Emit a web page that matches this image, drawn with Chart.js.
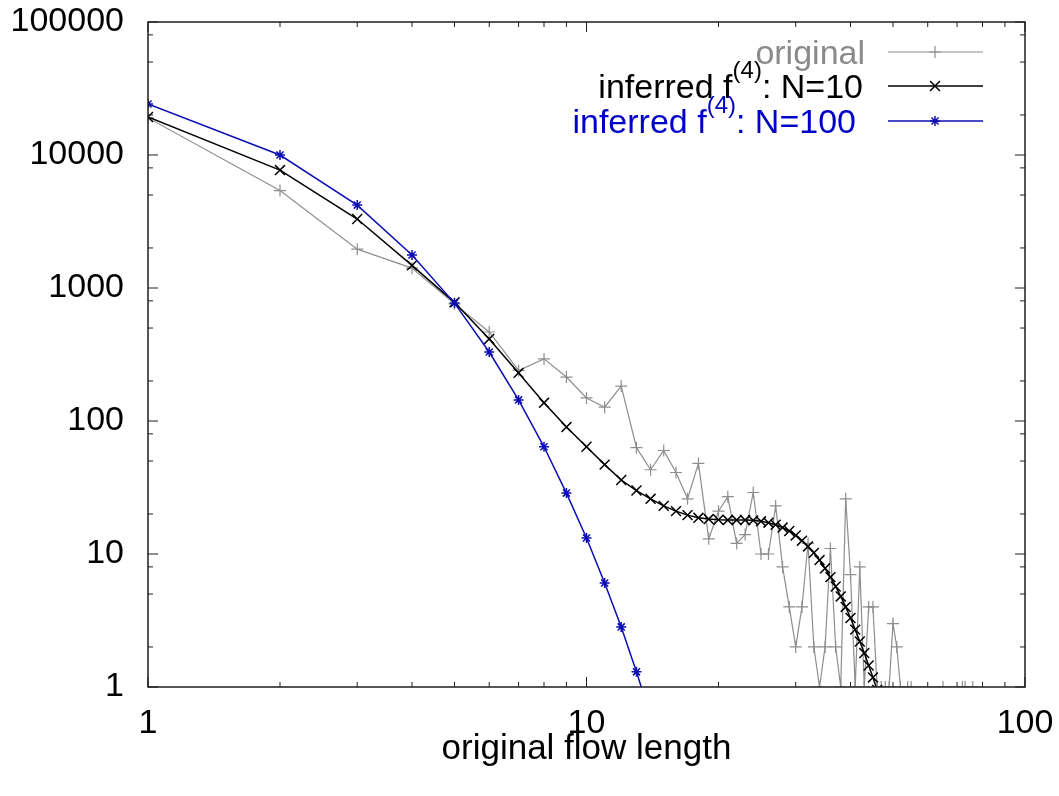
<!DOCTYPE html>
<html>
<head>
<meta charset="utf-8">
<title>original flow length</title>
<script src="https://cdn.jsdelivr.net/npm/chart.js@4.4.0/dist/chart.umd.min.js"></script>
<style>
  html, body { margin: 0; padding: 0; background: #fff; }
  canvas { display: block; }
</style>
</head>
<body>
<canvas id="flowChart" width="1059" height="796"></canvas>
<script>
// flow length distribution: original vs. inferred f(4)
const origX = [1, 2, 3, 4, 5, 6, 7, 8, 9, 10, 11, 12, 13, 14, 15, 16, 17, 18, 19, 20,
  21, 22, 23, 24, 25, 26, 27, 28, 29, 30, 31, 32, 33, 34, 35, 36, 37, 38, 39, 40,
  41, 42, 43, 44, 45, 46, 47, 48, 49, 50, 51, 52, 54, 55, 65, 72, 73, 76];
const origY = [19000, 5400, 1960, 1410, 760, 467, 240, 293, 214, 149, 127, 183, 63, 43, 60, 41, 26, 48, 13, 21,
  27, 12, 14, 29, 10, 10, 23, 8, 4, 2, 4, 12, 2, 1, 2, 11, 2, 1, 26, 7,
  1, 8, 1, 4, 4, 1, 1, 1, 1, 3, 2, 1, 1, 1, 1, 1, 1, 1];

const n10X = [1, 2, 3, 4, 5, 6, 7, 8, 9, 10, 11, 12, 13, 14, 15, 16, 17, 18, 19, 20, 21, 22, 23,
  24, 25, 26, 27, 28, 29, 30, 31, 32, 33, 34, 35, 36, 37, 38, 39, 40, 41, 42, 43, 44, 45, 46];
const n10Y = [19300, 7700, 3300, 1480, 780, 414, 230, 137, 90, 64, 47, 36, 30, 26, 23, 21, 19.6, 18.7, 18.3, 18.1, 18, 18, 18,
  17.9, 17.6, 17.2, 16.6, 15.8, 14.9, 13.8, 12.6, 11.4, 10.2, 9.0, 7.8, 6.7, 5.7, 4.8, 4.0, 3.3, 2.7, 2.2, 1.8, 1.45, 1.18, 0.95];

const n100X = [1, 2, 3, 4, 5, 6, 7, 8, 9, 10, 11, 12, 13, 14];
const n100Y = [24200, 10000, 4200, 1770, 770, 330, 144, 64, 28.7, 13.2, 6.05, 2.83, 1.30, 0.6];

const xMajor = [1, 10, 100];
const yMajor = [1, 10, 100, 1000, 10000, 100000];
const xMinorSteps = [2, 3, 4, 5, 6, 7, 8, 9];
const yMinorSteps = [2, 5, 8];

const GRAY = '#8e8e8e';
const BLUE = '#0c0cb4';
const FONT = '"Liberation Sans", Arial, Helvetica, sans-serif';

function pairs(xs, ys) {
  return xs.map((x, i) => ({ x: x, y: ys[i] }));
}

const legendRows = [
  { text: 'original', sup: '', tail: '', color: GRAY, textColor: '#8a8a8a', style: 'cross', radius: 6, right: 865, y: 52 },
  { text: 'inferred f', sup: '(4)', tail: ': N=10', color: '#000', textColor: '#000', style: 'crossRot', radius: 7, right: 863, y: 86 },
  { text: 'inferred f', sup: '(4)', tail: ': N=100', color: BLUE, textColor: '#0000c8', style: 'star', radius: 5, right: 856, y: 121 }
];

// border box with inward major/minor ticks on all four sides
const frameTicks = {
  id: 'frameTicks',
  afterDatasetsDraw(chart) {
    const { ctx, chartArea: a, scales: { x, y } } = chart;
    ctx.save();
    ctx.strokeStyle = '#1e1e1e';
    ctx.lineWidth = 1;
    ctx.beginPath();
    xMajor.forEach(function (d, i) {
      const px = x.getPixelForValue(d);
      ctx.moveTo(px, a.bottom); ctx.lineTo(px, a.bottom - 10);
      ctx.moveTo(px, a.top); ctx.lineTo(px, a.top + 10);
      if (i === xMajor.length - 1) return;
      xMinorSteps.forEach(function (k) {
        const mx = x.getPixelForValue(k * d);
        ctx.moveTo(mx, a.bottom); ctx.lineTo(mx, a.bottom - 5);
        ctx.moveTo(mx, a.top); ctx.lineTo(mx, a.top + 5);
      });
    });
    yMajor.forEach(function (d, i) {
      const py = y.getPixelForValue(d);
      ctx.moveTo(a.left, py); ctx.lineTo(a.left + 10, py);
      ctx.moveTo(a.right, py); ctx.lineTo(a.right - 10, py);
      if (i === yMajor.length - 1) return;
      yMinorSteps.forEach(function (k) {
        const my = y.getPixelForValue(k * d);
        ctx.moveTo(a.left, my); ctx.lineTo(a.left + 5, my);
        ctx.moveTo(a.right, my); ctx.lineTo(a.right - 5, my);
      });
    });
    ctx.stroke();
    ctx.lineWidth = 1.5;
    ctx.strokeRect(a.left, a.top, a.right - a.left, a.bottom - a.top);
    ctx.restore();
  }
};

// key in the top right corner: right-aligned text, sample line and marker
const keyBox = {
  id: 'keyBox',
  afterDraw(chart) {
    const ctx = chart.ctx;
    const mainFont = '34px ' + FONT;
    const supFont = '24px ' + FONT;
    ctx.save();
    legendRows.forEach(function (row) {
      ctx.font = mainFont;
      const wText = ctx.measureText(row.text).width;
      const wTail = ctx.measureText(row.tail).width;
      ctx.font = supFont;
      const wSup = ctx.measureText(row.sup).width;
      let cx = row.right - (wText + wSup + wTail);
      const base = row.y + 12;
      ctx.fillStyle = row.textColor;
      ctx.textBaseline = 'alphabetic';
      ctx.textAlign = 'left';
      ctx.font = mainFont;
      ctx.fillText(row.text, cx, base);
      cx += wText;
      if (row.sup) {
        ctx.font = supFont;
        ctx.fillText(row.sup, cx, base - 20);
        cx += wSup;
      }
      ctx.font = mainFont;
      ctx.fillText(row.tail, cx, base);

      ctx.strokeStyle = row.color;
      ctx.lineWidth = row.color === GRAY ? 1.2 : 1.5;
      ctx.beginPath();
      ctx.moveTo(888, row.y);
      ctx.lineTo(983, row.y);
      ctx.stroke();
      Chart.helpers.drawPoint(ctx, { pointStyle: row.style, radius: row.radius, borderWidth: 1.5, rotation: 0 }, 935, row.y);
    });
    ctx.restore();
  }
};

new Chart(document.getElementById('flowChart'), {
  type: 'line',
  data: {
    datasets: [
      {
        label: 'original',
        data: pairs(origX, origY),
        borderColor: GRAY,
        borderWidth: 1.2,
        pointStyle: 'cross',
        pointRadius: 6,
        pointBorderWidth: 1.2,
        pointBorderColor: GRAY,
        tension: 0,
        order: 3
      },
      {
        label: 'inferred f(4): N=10',
        data: pairs(n10X, n10Y),
        borderColor: '#000',
        borderWidth: 1.5,
        pointStyle: 'crossRot',
        pointRadius: 7,
        pointBorderWidth: 1.5,
        pointBorderColor: '#000',
        tension: 0,
        order: 2
      },
      {
        label: 'inferred f(4): N=100',
        data: pairs(n100X, n100Y),
        borderColor: BLUE,
        borderWidth: 1.5,
        pointStyle: 'star',
        pointRadius: 5,
        pointBorderWidth: 1.5,
        pointBorderColor: BLUE,
        tension: 0,
        order: 1
      }
    ]
  },
  options: {
    responsive: false,
    animation: false,
    events: [],
    layout: { padding: { top: 22, right: 34, left: 0, bottom: 0 } },
    plugins: {
      legend: { display: false },
      tooltip: { enabled: false }
    },
    scales: {
      x: {
        type: 'logarithmic',
        min: 1,
        max: 100,
        grid: { display: false, drawTicks: false },
        border: { display: false },
        afterBuildTicks: function (s) { s.ticks = xMajor.map(v => ({ value: v })); },
        afterFit: function (s) {
          s.height = 109;
          s.paddingLeft = 0;
          s.paddingRight = 0;
        },
        ticks: {
          color: '#000',
          padding: 16,
          maxRotation: 0,
          font: { family: FONT, size: 34 },
          callback: v => String(v)
        },
        title: {
          display: true,
          text: 'original flow length',
          color: '#000',
          font: { family: FONT, size: 35 },
          padding: { top: 0, bottom: 26 }
        }
      },
      y: {
        type: 'logarithmic',
        min: 1,
        max: 100000,
        grid: { display: false, drawTicks: false },
        border: { display: false },
        afterBuildTicks: function (s) { s.ticks = yMajor.map(v => ({ value: v })); },
        afterFit: function (s) {
          s.width = 148;
          s.paddingTop = 0;
          s.paddingBottom = 0;
        },
        ticks: {
          color: '#000',
          padding: 24,
          font: { family: FONT, size: 34 },
          callback: v => String(v)
        }
      }
    }
  },
  plugins: [frameTicks, keyBox]
});
</script>
</body>
</html>
